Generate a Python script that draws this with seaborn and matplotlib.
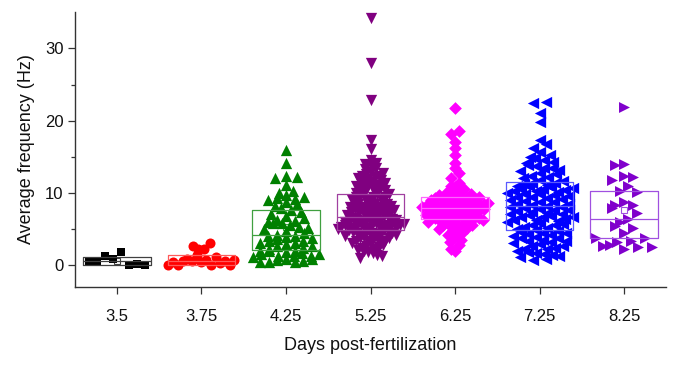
import numpy as np
import pandas as pd
import matplotlib
matplotlib.use("Agg")
import matplotlib.pyplot as plt
import seaborn as sns

# days post-fertilization (categories)
days = ["3.5", "3.75", "4.25", "5.25", "6.25", "7.25", "8.25"]

# average frequency per fish (Hz)
freq_3_5 = [0.55, 0.0, 1.25, 0.05, 1.75, 0.55, 0.15, 0.8]
freq_3_75 = [0.0, 0.3, 0.5, 0.6, 0.75, 2.6, 1.1, 3.1, 2.2, 1.4, 0.0, 0.0,
             0.05, 2.3, 0.6, 0.4, 0.6, 0.7, 0.9]
freq_4_25 = [0.4, 0.5, 0.5, 0.6, 0.7, 0.8, 0.9, 1.1, 1.2, 1.3, 1.3, 1.5, 1.6,
             1.7, 1.8, 1.9, 2.0, 2.0, 2.2, 2.4, 2.6, 2.7, 2.9, 3.0, 3.1, 3.3,
             3.4, 3.6, 3.7, 3.9, 4.0, 4.1, 4.2, 4.4, 4.7, 5.0, 5.1, 5.3, 5.6,
             5.8, 5.9, 6.0, 6.1, 6.3, 6.5, 6.8, 7.1, 7.4, 7.6, 7.9, 8.2, 8.5,
             8.8, 9.0, 9.1, 9.3, 9.5, 9.7, 10.0, 10.3, 11.1, 12.0, 12.2, 12.4,
             14.2, 16.0]
freq_5_25 = [1.0, 1.3, 1.4, 1.7, 1.8, 1.9, 2.1, 2.3, 2.4, 2.5, 2.7, 2.8, 2.9,
             3.0, 3.1, 3.3, 3.3, 3.4, 3.6, 3.7, 3.7, 3.8, 3.9, 4.0, 4.1, 4.2,
             4.2, 4.3, 4.4, 4.5, 4.5, 4.6, 4.7, 4.7, 4.8, 4.9, 4.9, 5.0, 5.1,
             5.1, 5.2, 5.2, 5.3, 5.4, 5.4, 5.5, 5.5, 5.6, 5.6, 5.7, 5.7, 5.8,
             5.8, 5.9, 5.9, 6.0, 6.1, 6.1, 6.2, 6.3, 6.3, 6.4, 6.5, 6.5, 6.6,
             6.7, 6.8, 6.8, 6.9, 7.0, 7.1, 7.2, 7.2, 7.3, 7.4, 7.5, 7.5, 7.6,
             7.7, 7.8, 7.8, 7.9, 8.0, 8.0, 8.1, 8.2, 8.4, 8.4, 8.5, 8.6, 8.8,
             8.8, 8.9, 9.0, 9.1, 9.2, 9.4, 9.4, 9.5, 9.6, 9.8, 9.8, 9.9, 10.0,
             10.1, 10.3, 10.4, 10.5, 10.6, 10.8, 10.9, 11.0, 11.1, 11.3, 11.4,
             11.5, 11.6, 11.8, 11.9, 12.0, 12.2, 12.3, 12.4, 12.6, 12.8, 12.9,
             13.3, 13.5, 13.8, 14.0, 14.2, 14.5, 16.1, 17.3, 22.8, 28.0, 34.2]
freq_6_25 = [1.9, 2.3, 2.8, 3.2, 3.5, 3.9, 4.2, 4.4, 4.6, 4.8, 5.0, 5.1, 5.3,
             5.4, 5.5, 5.6, 5.7, 5.8, 5.9, 6.0, 6.1, 6.2, 6.2, 6.3, 6.3, 6.4,
             6.5, 6.5, 6.6, 6.7, 6.7, 6.8, 6.9, 6.9, 7.0, 7.1, 7.1, 7.2, 7.3,
             7.3, 7.4, 7.5, 7.5, 7.6, 7.7, 7.7, 7.8, 7.8, 7.9, 7.9, 8.0, 8.0,
             8.1, 8.1, 8.2, 8.2, 8.3, 8.3, 8.4, 8.4, 8.5, 8.5, 8.6, 8.6, 8.7,
             8.8, 8.8, 8.9, 9.0, 9.0, 9.1, 9.2, 9.2, 9.3, 9.3, 9.4, 9.5, 9.6,
             9.7, 9.8, 9.9, 10.0, 10.2, 10.4, 10.6, 10.8, 11.0, 11.3, 12.0,
             12.7, 13.5, 14.2, 15.2, 16.2, 17.0, 18.2, 18.6, 21.7]
freq_7_25 = [0.7, 0.9, 1.1, 1.2, 1.4, 1.6, 1.7, 1.8, 2.0, 2.2, 2.3, 2.4, 2.6,
             2.7, 2.9, 3.0, 3.2, 3.3, 3.4, 3.5, 3.7, 3.8, 3.9, 4.1, 4.2, 4.3,
             4.4, 4.5, 4.6, 4.7, 4.9, 5.0, 5.2, 5.3, 5.5, 5.6, 5.7, 5.8, 6.0,
             6.1, 6.2, 6.3, 6.4, 6.6, 6.6, 6.7, 6.8, 6.9, 7.1, 7.1, 7.2, 7.4,
             7.5, 7.6, 7.7, 7.8, 7.9, 8.0, 8.1, 8.2, 8.3, 8.4, 8.5, 8.7, 8.8,
             8.9, 9.0, 9.2, 9.3, 9.4, 9.5, 9.6, 9.7, 9.9, 9.9, 10.0, 10.1,
             10.2, 10.3, 10.4, 10.5, 10.6, 10.7, 10.8, 10.9, 11.0, 11.1, 11.2,
             11.3, 11.4, 11.6, 11.8, 12.0, 12.2, 12.4, 12.6, 12.8, 13.0, 13.2,
             13.4, 13.5, 13.7, 13.9, 14.1, 14.3, 14.6, 14.8, 15.0, 15.3, 15.6,
             16.2, 16.8, 17.3, 19.8, 21.0, 22.5, 22.6]
freq_8_25 = [21.9, 14.0, 13.8, 12.2, 12.4, 11.8, 10.1, 11.0, 10.3, 7.9, 8.3,
             8.3, 8.8, 7.2, 6.4, 6.0, 5.4, 5.1, 4.4, 3.8, 3.7, 3.3, 3.2, 2.6,
             2.5, 2.5, 2.2, 2.8]

# box edges (25th / 50th / 75th percentile) as drawn in the figure
box_q1 = [0.05, 0.05, 2.1, 4.8, 6.4, 4.8, 3.75]
box_med = [0.55, 0.6, 4.2, 6.6, 7.9, 8.2, 6.4]
box_q3 = [1.15, 1.4, 7.6, 9.9, 9.4, 11.5, 10.2]

groups = [freq_3_5, freq_3_75, freq_4_25, freq_5_25, freq_6_25, freq_7_25, freq_8_25]
colors = ["#000000", "#ff0000", "#008000", "#800080", "#ff00ff", "#0000ff", "#8000cc"]
box_colors = ["#404040", "#ff5a5a", "#40a040", "#a040a0", "#ff66ff", "#5a5aff", "#a050e0"]
markers = ["s", "o", "^", "v", "D", "<", ">"]
sizes = [40, 52, 66, 66, 42, 66, 62]
bin_widths = [2.0, 2.0, 1.0, 1.0, 1.0, 1.0, 2.0]


def spread(values, bin_w=1.0, width=0.78):
    # sideways offset: points in the same bin are spread over a width
    # proportional to how many points share that bin, slots interleaved
    v = np.asarray(values, dtype=float)
    bins = np.floor(v / bin_w).astype(int)
    uniq, counts = np.unique(bins, return_counts=True)
    n_max = counts.max()
    off = np.zeros(len(v))
    for b, n in zip(uniq, counts):
        idx = np.where(bins == b)[0]
        if n < 2:
            continue
        w = width * n / n_max
        slots = np.linspace(-w / 2, w / 2, n)
        step = max(1, int(round(n * 0.618)))
        while np.gcd(step, n) != 1:
            step += 1
        order = (np.arange(n) * step) % n
        off[idx] = slots[order]
    return off


rows = []
for i, vals in enumerate(groups):
    off = spread(vals, bin_w=bin_widths[i], width=0.66 if i in (0, 6) else 0.78)
    for v, o in zip(vals, off):
        rows.append({"day": days[i], "x": i + o, "freq": v})
df = pd.DataFrame(rows)

sns.set_style("ticks")
plt.rcParams["font.family"] = ["Liberation Sans", "DejaVu Sans"]

fig = plt.figure(figsize=(6.78, 3.72), dpi=100)
ax = fig.add_axes([0.110, 0.229, 0.873, 0.738])

for i, d in enumerate(days):
    sub = df[df["day"] == d]
    sns.scatterplot(data=sub, x="x", y="freq", marker=markers[i], color=colors[i],
                    s=sizes[i], linewidth=0, ax=ax, legend=False, zorder=1)

stats = []
for i, vals in enumerate(groups):
    stats.append({"med": box_med[i], "q1": box_q1[i], "q3": box_q3[i],
                  "whislo": box_q1[i], "whishi": box_q3[i],
                  "mean": float(np.mean(vals)), "fliers": []})
bp = ax.bxp(stats, positions=range(len(days)), widths=0.8, showcaps=False,
            showfliers=False, showmeans=True, manage_ticks=False)
for i in range(len(days)):
    bp["boxes"][i].set(color=box_colors[i], linewidth=0.9, zorder=3)
    bp["medians"][i].set(color=box_colors[i], linewidth=0.9, zorder=3)
    bp["means"][i].set(marker="s", markersize=4, markerfacecolor="none",
                       markeredgecolor=box_colors[i], markeredgewidth=0.8, zorder=0.5)
    for w in bp["whiskers"][2 * i:2 * i + 2]:
        w.set_visible(False)

ax.set_xlim(-0.5, 6.5)
ax.set_ylim(-3, 35)
ax.set_xticks(range(len(days)))
ax.set_xticklabels(days)
ax.set_yticks([0, 10, 20, 30])
ax.set_yticks([5, 15, 25], minor=True)

sns.despine(ax=ax)
for s in ["left", "bottom"]:
    ax.spines[s].set_color("#333333")
    ax.spines[s].set_linewidth(1.0)
ax.tick_params(axis="both", which="major", direction="out", length=5, width=0.9,
               color="#333333", labelsize=12, labelcolor="#111111")
ax.tick_params(axis="y", which="minor", direction="out", length=3, width=0.9, color="#333333")
ax.tick_params(axis="x", pad=11)
ax.tick_params(axis="y", pad=3)

ax.set_xlabel("Days post-fertilization", fontsize=13, labelpad=9, color="#111111")
ax.set_ylabel("Average frequency (Hz)", fontsize=13, labelpad=7, color="#111111")

fig.savefig("out.png", dpi=100)
